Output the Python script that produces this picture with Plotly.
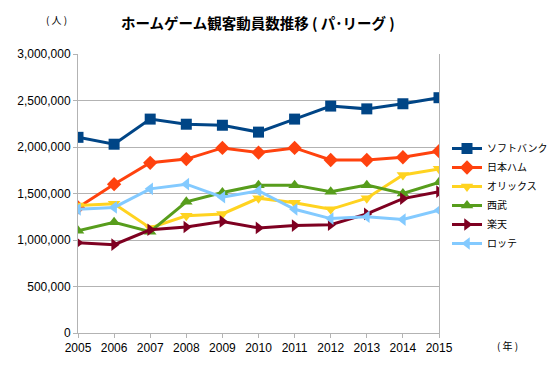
import plotly.graph_objects as go

years = [2005, 2006, 2007, 2008, 2009, 2010, 2011, 2012, 2013, 2014, 2015]
teams = ["ソフトバンク", "日本ハム", "オリックス", "西武", "楽天", "ロッテ"]

softbank = [2104000, 2030000, 2300000, 2245000, 2234000, 2160000, 2300000, 2440000, 2410000, 2465000, 2530000]
nipponham = [1350000, 1600000, 1830000, 1870000, 1990000, 1940000, 1990000, 1860000, 1860000, 1890000, 1955000]
orix = [1370000, 1390000, 1130000, 1260000, 1280000, 1450000, 1400000, 1330000, 1450000, 1700000, 1765000]
seibu = [1100000, 1190000, 1090000, 1410000, 1510000, 1590000, 1590000, 1520000, 1590000, 1500000, 1620000]
rakuten = [970000, 950000, 1110000, 1140000, 1200000, 1130000, 1155000, 1165000, 1280000, 1445000, 1520000]
lotte = [1330000, 1350000, 1550000, 1600000, 1460000, 1530000, 1330000, 1230000, 1250000, 1220000, 1320000]

series = [softbank, nipponham, orix, seibu, rakuten, lotte]
colors = ["#004586", "#ff420e", "#ffd320", "#579d1c", "#7e0021", "#83caff"]
symbols = ["square", "diamond", "triangle-down", "triangle-up", "triangle-right", "triangle-left"]

FONT = "Liberation Sans, Noto Sans CJK JP, sans-serif"
CJK = "Noto Sans CJK JP, sans-serif"

L, R, T, B = 78, 109, 54, 42
PW, PH = 548 - L - R, 375 - T - B

fig = go.Figure()
for name, vals, c, s in zip(teams, series, colors, symbols):
    fig.add_trace(go.Scatter(
        x=years, y=vals, name=name, mode="lines+markers",
        line=dict(color=c, width=3),
        marker=dict(symbol=s, size=11, color=c),
    ))

fig.update_layout(
    width=548, height=375,
    margin=dict(l=L, r=R, t=T, b=B, autoexpand=False),
    paper_bgcolor="white", plot_bgcolor="white",
    font=dict(family=FONT, size=12, color="black"),
    showlegend=True,
    legend=dict(xref="container", yref="container", x=447 / 548, y=1 - 134 / 375,
                xanchor="left", yanchor="top",
                font=dict(family=CJK, size=10),
                itemwidth=30, tracegroupgap=0, bgcolor="rgba(0,0,0,0)"),
    xaxis=dict(range=[2005, 2015], tickmode="array", tickvals=years,
               ticktext=[str(y) for y in years], automargin=False,
               showgrid=False, showline=True, linecolor="#b3b3b3", linewidth=1,
               ticks="outside", ticklen=4, tickcolor="#b3b3b3",
               zeroline=False, tickfont=dict(size=12)),
    yaxis=dict(range=[0, 3000000], tickmode="array", automargin=False,
               tickvals=[0, 500000, 1000000, 1500000, 2000000, 2500000, 3000000],
               ticktext=["0", "500,000", "1,000,000", "1,500,000", "2,000,000", "2,500,000", "3,000,000"],
               showgrid=True, gridcolor="#b3b3b3", gridwidth=1,
               showline=True, mirror=True, linecolor="#b3b3b3", linewidth=1,
               ticks="outside", ticklen=4, tickcolor="#b3b3b3",
               zeroline=False, tickfont=dict(size=12)),
)

fig.add_annotation(text="<b>ホームゲーム観客動員数推移 ( パ･リーグ )</b>",
                   xref="paper", yref="paper", x=(258 - L) / PW, y=1 + (T - 22) / PH,
                   showarrow=False, xanchor="center", yanchor="middle",
                   font=dict(family=CJK, size=14.5, color="black"))
fig.add_annotation(text="( 人 )", xref="paper", yref="paper",
                   x=(56 - L) / PW, y=1 + (T - 20) / PH,
                   showarrow=False, xanchor="center", yanchor="middle",
                   font=dict(family=CJK, size=10, color="black"))
fig.add_annotation(text="( 年 )", xref="paper", yref="paper",
                   x=(507 - L) / PW, y=-(345 - (375 - B)) / PH,
                   showarrow=False, xanchor="center", yanchor="middle",
                   font=dict(family=CJK, size=10, color="black"))

fig.write_html("out.html", config={"displayModeBar": False},
               post_script="document.body.style.margin='0';document.body.style.padding='0';")
